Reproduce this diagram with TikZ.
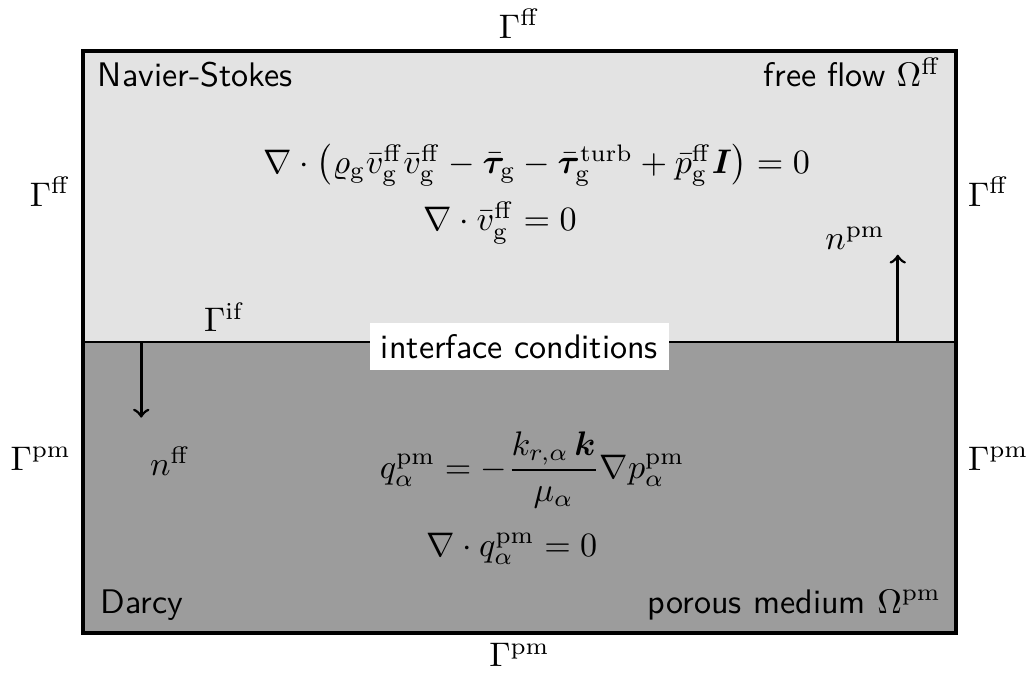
\documentclass[tikz,border=0pt]{standalone}
\usepackage{amsmath}
\usepackage{bm}
\begin{document}
\begin{tikzpicture}
    \path[use as bounding box] (-0.856,-0.433) rectangle (9.794,6.526);
    % Domains
    \fill[black!11] (0,3) rectangle (9,6);
    \fill[black!39] (0,0) rectangle (9,3);
    \draw[line width=1pt] (0,0) rectangle (9,6);
    \draw[thick] (0,3) -- (9,3);

    % Boundaries
    \node (gfftop) at (4.5,6.28) {$\Gamma^\mathrm{ff}$};
    \node[anchor=east] (gffleft) at (0,4.55) {$\Gamma^\mathrm{ff}$};
    \node[anchor=west] (gffright) at (9,4.55) {$\Gamma^\mathrm{ff}$};
    \node[anchor=east] (gpmleft) at (0,1.8) {$\Gamma^\mathrm{pm}$};
    \node[anchor=west] (gpmright) at (9,1.8) {$\Gamma^\mathrm{pm}$};
    \node (gpmbottom) at (4.5,-0.23) {$\Gamma^\mathrm{pm}$};
    \node[anchor=south] (gif) at (1.46,2.98) {$\Gamma^\mathrm{if}$};

    % Free flow
    \node[anchor=base west,font=\sffamily] (ns) at (0.03,5.63) {Navier-Stokes};
    \node[anchor=base east,font=\sffamily] (ff) at (8.97,5.63)
        {free flow $\Omega^\mathrm{ff}$};
    \node (momff) at (4.68,4.82)
        {$\nabla\cdot\big(\varrho_\mathrm{g}\bar{v}_\mathrm{g}^\mathrm{ff}\bar{v}_\mathrm{g}^\mathrm{ff}
        -\bar{\bm{\tau}}_\mathrm{g}-\bar{\bm{\tau}}_\mathrm{g}^\mathrm{turb}
        +\bar{p}_\mathrm{g}^\mathrm{ff}\bm{I}\big)=0$};
    \node (massff) at (4.3,4.23) {$\nabla\cdot\bar{v}_\mathrm{g}^\mathrm{ff}=0$};

    % Porous medium
    \node[anchor=base west,font=\sffamily] (darcy) at (0.06,0.206) {Darcy};
    \node[anchor=base east,font=\sffamily] (pm) at (8.97,0.206)
        {porous medium $\Omega^\mathrm{pm}$};
    \node (mompm) at (4.63,1.68)
        {$\displaystyle q_\alpha^\mathrm{pm}=-\frac{k_{r,\alpha}\,\bm{k}}{\mu_\alpha}\nabla p_\alpha^\mathrm{pm}$};
    \node (masspm) at (4.42,0.87) {$\nabla\cdot q_\alpha^\mathrm{pm}=0$};

    % Interface
    \node[fill=white,font=\sffamily] (ic) at (4.5,2.95) {interface conditions};

    % Normals
    \coordinate (nffstart) at (0.6,3);
    \coordinate (nffend) at (0.6,2.22);
    \draw[->,thick] (nffstart) -- (nffend);
    \node (nff) at (0.9,1.77) {$n^\mathrm{ff}$};
    \coordinate (npmstart) at (8.4,3);
    \coordinate (npmend) at (8.4,3.9);
    \draw[->,thick] (npmstart) -- (npmend);
    \node (npm) at (7.96,4.07) {$n^\mathrm{pm}$};
  \end{tikzpicture}
\end{document}
